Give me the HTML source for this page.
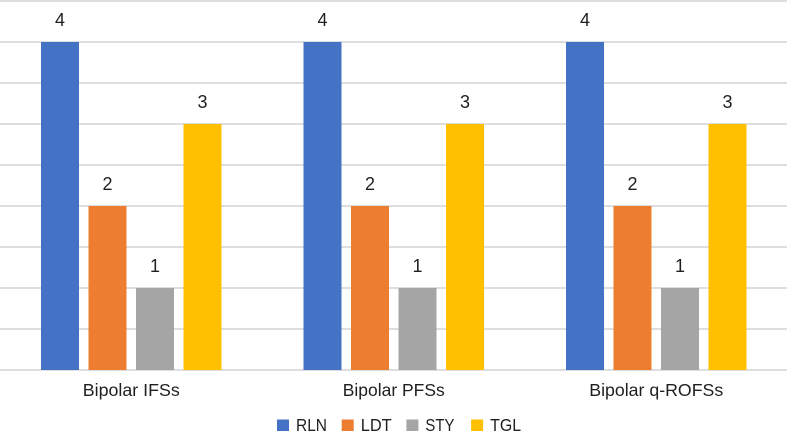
<!DOCTYPE html>
<html>
<head>
<meta charset="utf-8">
<style>
html,body{margin:0;padding:0;background:#fff;width:787px;height:438px;overflow:hidden}
svg{display:block}
text{font-family:"Liberation Sans",sans-serif;fill:#1f1f1f}
</style>
</head>
<body>
<svg id="chart" width="787" height="438" viewBox="0 0 787 438" xmlns="http://www.w3.org/2000/svg">
<g id="grid"></g>
<g id="bars"></g>
<g id="labels"></g>
<g id="cats"></g>
<g id="legend"></g>
</svg>
<script>
const categories = ["Bipolar IFSs", "Bipolar PFSs", "Bipolar q-ROFSs"];
const seriesNames = ["RLN", "LDT", "STY", "TGL"];
const rlnValues = [4, 4, 4];
const ldtValues = [2, 2, 2];
const styValues = [1, 1, 1];
const tglValues = [3, 3, 3];
const gridTicks = [0, 0.5, 1, 1.5, 2, 2.5, 3, 3.5, 4, 4.5];

const allSeries = [rlnValues, ldtValues, styValues, tglValues];
const colors = ["#4472c4", "#ed7d31", "#a5a5a5", "#ffc000"];
const svgNS = "http://www.w3.org/2000/svg";
const yScale = v => 370 - v * 82;
const groupCenter = i => 131.25 + i * 262.5;
const barWidth = 38;
const barStep = 47.5;
const barX = (g, s) => groupCenter(g) + (s - (seriesNames.length - 1) / 2) * barStep - barWidth / 2;

function make(tag, attrs, parent, txt) {
  const el = document.createElementNS(svgNS, tag);
  for (const k in attrs) el.setAttribute(k, attrs[k]);
  if (txt !== undefined) el.textContent = txt;
  parent.appendChild(el);
  return el;
}

const gridG = document.getElementById("grid");
gridTicks.forEach(t => {
  const line = make("line", {x1: 0, x2: 787, y1: yScale(t), y2: yScale(t), stroke: "#d9d9d9", "stroke-width": 1.8}, gridG);
  
  
});

const barsG = document.getElementById("bars");
const labelsG = document.getElementById("labels");
allSeries.forEach((vals, s) => {
  vals.forEach((v, g) => {
    const r = make("rect", {x: barX(g, s), y: yScale(v), width: barWidth, height: yScale(0) - yScale(v), fill: colors[s]}, barsG);
    
    
    const t = make("text", {x: barX(g, s) + barWidth / 2, y: yScale(v) - 16, "text-anchor": "middle", "font-size": 18, textLength: 10, lengthAdjust: "spacingAndGlyphs"}, labelsG, String(v));
    
    
  });
});

const catsG = document.getElementById("cats");
const catWidths = [97, 102, 134];
categories.forEach((c, i) => {
  const t = make("text", {x: groupCenter(i), y: 396, "text-anchor": "middle", "font-size": 17.5, textLength: catWidths[i], lengthAdjust: "spacingAndGlyphs"}, catsG, c);
  
  
});

const legendG = document.getElementById("legend");
const legendStart = 277;
const legendStep = 64.7;
seriesNames.forEach((n, i) => {
  const x = legendStart + i * legendStep;
  const sw = make("rect", {x: x, y: 419.5, width: 12, height: 11.5, fill: colors[i]}, legendG);
  
  
  const t = make("text", {x: x + 19, y: 431, "font-size": 17.5, textLength: i === 2 ? 29 : 31, lengthAdjust: "spacingAndGlyphs"}, legendG, n);
  
  
});
</script>
</body>
</html>
